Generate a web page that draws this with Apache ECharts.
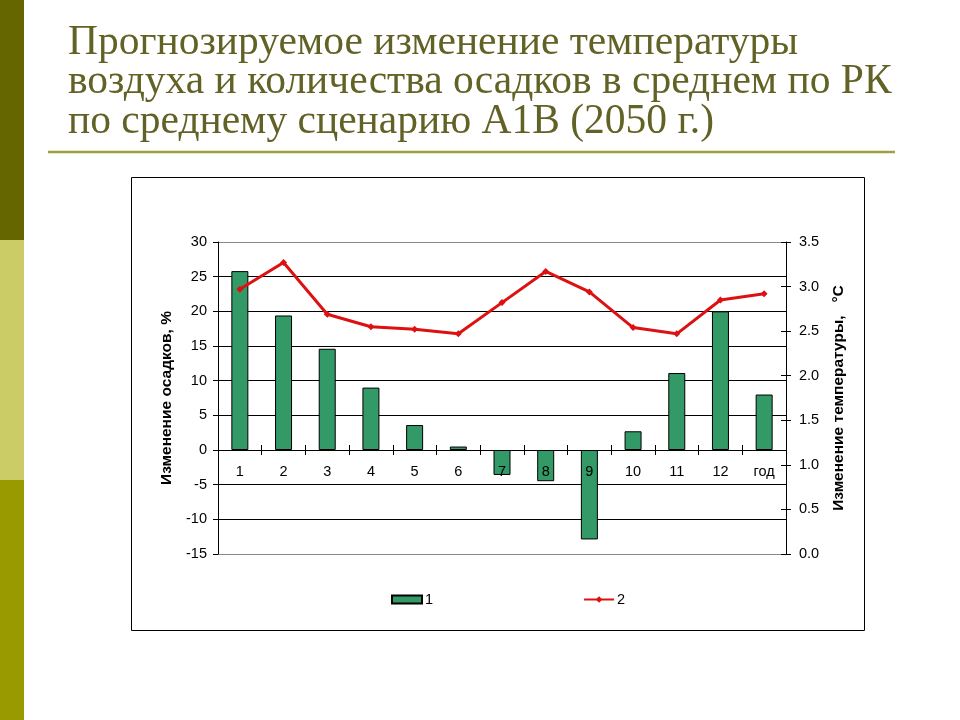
<!DOCTYPE html>
<html>
<head>
<meta charset="utf-8">
<script src="https://cdn.jsdelivr.net/npm/echarts@6/dist/echarts.min.js"></script>
<style>
html,body{margin:0;padding:0;background:#fff;}
#c{width:960px;height:720px;}
</style>
</head>
<body>
<div id="c"></div>
<script>
const categories = ['1','2','3','4','5','6','7','8','9','10','11','12','год'];
const precipitation = [25.8, 19.4, 14.6, 9.0, 3.6, 0.5, -3.6, -4.5, -12.9, 2.7, 11.1, 20.0, 8.0];
const temperature = [2.97, 3.27, 2.69, 2.55, 2.52, 2.47, 2.82, 3.17, 2.94, 2.54, 2.47, 2.85, 2.92];
const titleLines = ['Прогнозируемое изменение температуры', 'воздуха и количества осадков в среднем по РК', 'по среднему сценарию А1В (2050 г.)'];
const seriesNames = ['1', '2'];
const leftAxisName = 'Изменение осадков, %';
const rightAxisName = 'Изменение температуры,   °C';

const PLOT_TOP = 242, PLOT_BOTTOM = 554;
const leftMin = -15, leftMax = 30;
const rightMin = 0, rightMax = 3.5;
// distance (px) of the zero line above the plot bottom, from the axis scale
const zeroOffset = (PLOT_BOTTOM - PLOT_TOP) * (0 - leftMin) / (leftMax - leftMin);

const chart = echarts.init(document.getElementById('c'));
const gridColors = ['#888','#000','#000','#000','#000','#000','#000','#000','#000','#888'];
const font = 'Arial, "Liberation Sans"';
const labelSize = 14.5;
const nameStyle = {fontFamily:font, fontSize:15.5, fontWeight:'bold', color:'#000'};

chart.setOption({
  backgroundColor: '#fff',
  animation: false,
  graphic: [
    {type:'rect', shape:{x:0,y:0,width:24,height:240}, style:{fill:'#666600'}},
    {type:'rect', shape:{x:0,y:240,width:24,height:240}, style:{fill:'#cccc66'}},
    {type:'rect', shape:{x:0,y:480,width:24,height:240}, style:{fill:'#999900'}},
    {type:'text', left:68, top:22, style:{text: titleLines.join('\n'), font:'41.5px "Liberation Serif"', fill:'#626226', lineHeight:39.5}},
    {type:'line', shape:{x1:48,y1:152,x2:895,y2:152}, style:{stroke:'#a0a040', lineWidth:2.5}},
    {type:'rect', shape:{x:131.5,y:177.5,width:733,height:453}, style:{fill:'none', stroke:'#000', lineWidth:1}, z:-1}
  ],
  grid: {left:218, right:174, top:PLOT_TOP, bottom:720 - PLOT_BOTTOM},
  legend: {
    left: 386, top: 587,
    itemGap: 150, itemWidth: 30, itemHeight: 8,
    textStyle: {fontFamily:font, fontSize:labelSize, color:'#000', padding:[0,0,0,-2]},
    data: [
      {name: seriesNames[0], icon:'rect'},
      {name: seriesNames[1]}
    ]
  },
  xAxis: [
    {
      type:'category', data: categories, z: 5,
      position:'bottom', offset: -zeroOffset,
      axisLine: {onZero:false, lineStyle:{color:'#000', width:1}},
      axisTick: {show:true, interval:0, length:5, lineStyle:{color:'#000'}},
      axisLabel: {interval:0, margin:14, color:'#000', fontSize:labelSize, fontFamily:font},
      splitLine: {show:false}
    },
    {
      type:'category', data: categories, z: 5,
      position:'bottom', offset: -zeroOffset,
      axisLine: {show:false, onZero:false},
      axisTick: {show:true, inside:true, interval:0, length:5, lineStyle:{color:'#000'}},
      axisLabel: {show:false},
      splitLine: {show:false}
    }
  ],
  yAxis: [
    {
      type:'value', min:leftMin, max:leftMax, interval:5, position:'left',
      name: leftAxisName, nameLocation:'middle', nameGap:42, nameRotate:90,
      nameTextStyle: nameStyle,
      axisLine: {show:true, lineStyle:{color:'#000'}},
      axisTick: {show:true, length:5, lineStyle:{color:'#000'}},
      axisLabel: {color:'#000', fontSize:labelSize, margin:11, fontFamily:font},
      splitLine: {show:true, lineStyle:{color:gridColors, width:1}}
    },
    {
      type:'value', min:rightMin, max:rightMax, interval:0.5, position:'right',
      name: rightAxisName, nameLocation:'middle', nameGap:45, nameRotate:90,
      nameTextStyle: nameStyle,
      axisLine: {show:true, lineStyle:{color:'#000'}},
      axisTick: {show:true, length:5, lineStyle:{color:'#000'}},
      axisLabel: {color:'#000', fontSize:labelSize, margin:13, fontFamily:font, formatter: v => v.toFixed(1)},
      splitLine: {show:false}
    },
    {
      type:'value', min:rightMin, max:rightMax, interval:0.5, position:'right',
      axisLine: {show:false},
      axisTick: {show:true, inside:true, length:5, lineStyle:{color:'#000'}},
      axisLabel: {show:false},
      splitLine: {show:false}
    }
  ],
  series: [
    {
      name: seriesNames[0], type:'bar', yAxisIndex:0, data: precipitation,
      barWidth: 17,
      itemStyle: {color:'#339966', borderColor:'#000', borderWidth:1}
    },
    {
      name: seriesNames[1], type:'line', yAxisIndex:1, data: temperature,
      symbol:'diamond', symbolSize:7,
      lineStyle: {color:'#dd1111', width:3},
      itemStyle: {color:'#dd1111'},
      z: 4
    }
  ]
});
</script>
</body>
</html>
